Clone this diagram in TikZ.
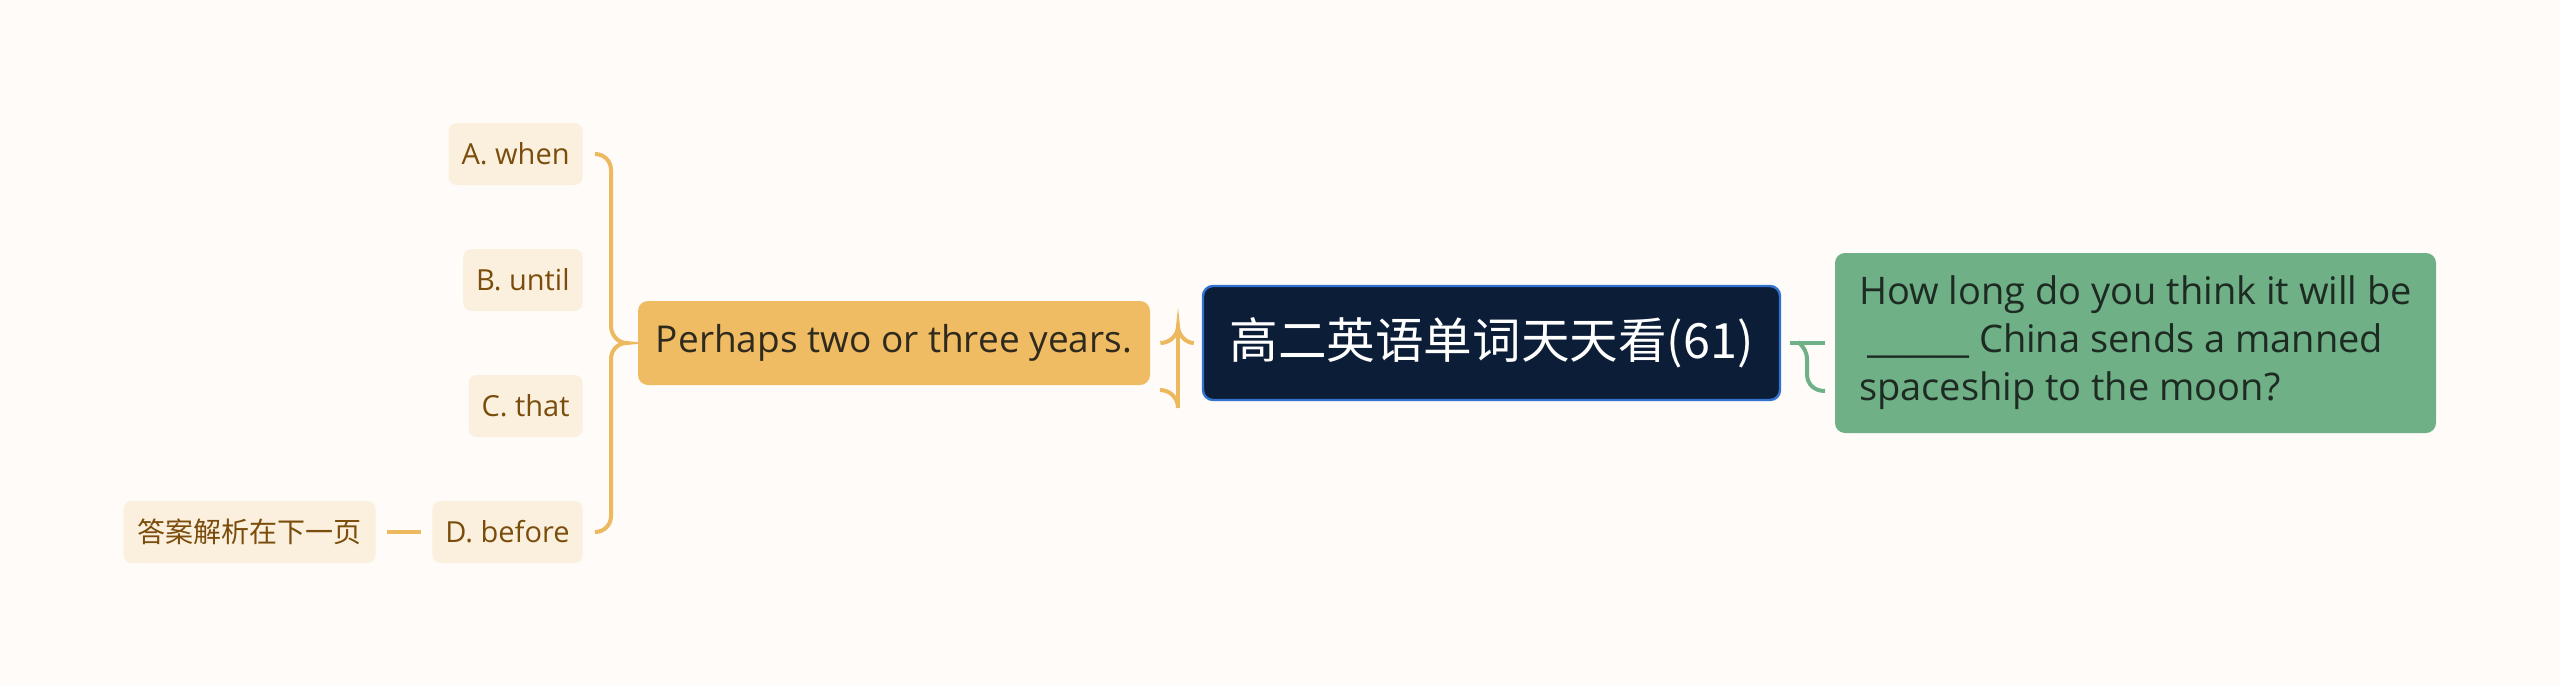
\documentclass[tikz,border=0pt]{standalone}
\usepackage{fontspec}
\setmainfont{Open Sans}
\newfontfamily\cjk{Noto Sans CJK SC}
\definecolor{bg}{HTML}{FFFBF9}
\definecolor{navy}{HTML}{0C1D38}
\definecolor{navyline}{HTML}{3373D0}
\definecolor{gfill}{HTML}{6FB087}
\definecolor{gtext}{HTML}{1E2B22}
\definecolor{ofill}{HTML}{F0BC63}
\definecolor{otext}{HTML}{2E2A1E}
\definecolor{optfill}{HTML}{FBF0DE}
\definecolor{opttext}{HTML}{7B4D0C}
\definecolor{oline}{HTML}{EDB95E}
\definecolor{gline}{HTML}{6FB087}
\begin{document}
\begin{tikzpicture}[x=0.5pt,y=-0.5pt,
  central/.style={fill=navy, draw=navyline, line width=1.2pt, rounded corners=5pt,
    minimum width=288.5pt, minimum height=57pt, inner sep=0pt, text=white,
    font=\cjk\fontsize{24.3pt}{28pt}\selectfont},
  greenbox/.style={fill=gfill, rounded corners=5pt, text=gtext, align=left,
    minimum width=300.5pt, inner sep=0pt, minimum height=90pt,
    font=\fontsize{19pt}{24pt}\selectfont},
  orangebox/.style={fill=ofill, rounded corners=5pt, text=otext,
    minimum width=256pt, minimum height=42pt, inner sep=0pt,
    font=\fontsize{18.5pt}{22pt}\selectfont},
  opt/.style={fill=optfill, rounded corners=4pt, text=opttext, anchor=east,
    inner xsep=6.5pt, inner ysep=0pt, minimum height=31pt,
    font=\fontsize{14.5pt}{17pt}\selectfont},
  optcjk/.style={opt, inner xsep=7pt, font=\cjk\fontsize{14pt}{17pt}\selectfont},
  olink/.style={draw=oline, line width=2pt},
  glink/.style={draw=gline, line width=2pt}
]
\fill[bg] (0,0) rectangle (2560,686);
\useasboundingbox (0,0) rectangle (2560,686);

\node[central] (c) at (1491.5,343) {高二英语单词天天看(61)};
\node[greenbox] (g) at (2135.5,343) {How long do you think it will be\\\hspace*{4pt}\_\_\_\_\_\_ China sends a manned\\spaceship to the moon?};
\node[orangebox] (o) at (894,343) {Perhaps two or three years.};

\node[opt] (a) at (583,154) {A. when};
\node[opt] (b) at (583,280) {B. until};
\node[opt] (cc) at (583,406) {C. that};
\node[opt] (d) at (583,532) {D. before};
\node[optcjk] (ans) at (376,532) {答案解析在下一页};

% connector answer - D
\draw[olink] ([xshift=5.5pt]ans.east) -- ([xshift=-5.5pt]d.west);

% big brace from options to orange
\coordinate (bs) at ([xshift=6pt]a.east);
\coordinate (be) at ([xshift=6pt]d.east);
\coordinate (bt) at ([xshift=-5.5pt]o.west);
\draw[olink] (bs) .. controls (604,154) and (611,161) .. (611,170)
  -- (611,326) .. controls (611,335) and (618,343) .. (bt)
  .. controls (618,343) and (611,350) .. (611,359)
  -- (611,516) .. controls (611,525) and (604,532) .. (be);

% brace between orange and central
\coordinate (ol) at ([xshift=5pt]o.east);
\coordinate (cr) at ([xshift=-4pt]c.west);
\coordinate (top) at (1178,326);
\draw[olink] (ol) .. controls (1170,343) and (1178,335) .. (top)
  .. controls (1178,335) and (1186,343) .. (cr);
\draw[olink] (top) -- (1178,408);
\draw[olink] (1160,390) .. controls (1170,390) and (1178,398) .. (1178,408);

% connector central - green
\coordinate (gs) at ([xshift=4.5pt]c.east);
\coordinate (ge) at ([xshift=-5pt]g.west);
\draw[glink] (gs) -- (ge);
\draw[glink] (1798,342) .. controls (1804,347) and (1807,352) .. (1807,360)
  -- (1807,374) .. controls (1807,384) and (1814,391) .. (1825,391);
\end{tikzpicture}
\end{document}
